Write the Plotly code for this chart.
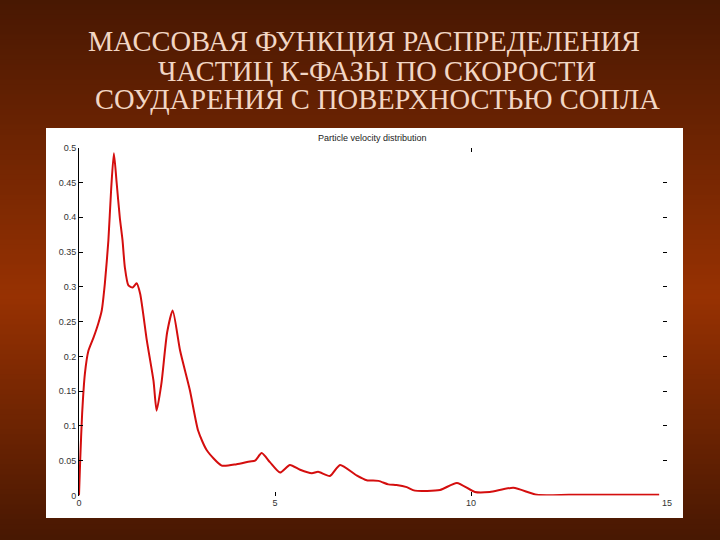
import plotly.graph_objects as go

# ---- data ----
velocity = [0.0, 0.03, 0.08, 0.15, 0.24, 0.37, 0.49, 0.58, 0.66, 0.75, 0.82, 0.89,
            0.96, 1.04, 1.11, 1.17, 1.26, 1.37, 1.47, 1.56, 1.73, 1.90, 1.98,
            2.10, 2.25, 2.39, 2.58, 2.83, 3.04, 3.26, 3.64, 4.02, 4.36, 4.49,
            4.66, 4.87, 5.13, 5.38, 5.64, 5.94, 6.10, 6.40, 6.66, 7.08, 7.34,
            7.64, 7.89, 8.10, 8.36, 8.57, 9.21, 9.64, 10.10, 10.48, 11.08,
            11.68, 12.5, 13.5, 14.8]
mass_fraction = [0.0, 0.05, 0.118, 0.175, 0.208, 0.227, 0.247, 0.266, 0.305, 0.367, 0.44, 0.492,
                 0.45, 0.40, 0.367, 0.328, 0.302, 0.299, 0.305, 0.290, 0.223, 0.165, 0.122,
                 0.16, 0.235, 0.266, 0.208, 0.151, 0.093, 0.065, 0.043, 0.045, 0.049, 0.050,
                 0.061, 0.048, 0.033, 0.044, 0.037, 0.032, 0.034, 0.028, 0.044, 0.029, 0.022,
                 0.021, 0.016, 0.015, 0.012, 0.007, 0.008, 0.018, 0.005, 0.005, 0.011,
                 0.001, 0.001, 0.001, 0.001]

x_ticks = [0, 5, 10, 15]
x_top_ticks = [10]
y_ticks = [0, 0.05, 0.1, 0.15, 0.2, 0.25, 0.3, 0.35, 0.4, 0.45, 0.5]
y_tick_text = ["0", "0.05", "0.1", "0.15", "0.2", "0.25", "0.3", "0.35", "0.4", "0.45", "0.5"]

title_lines = ["МАССОВАЯ ФУНКЦИЯ РАСПРЕДЕЛЕНИЯ",
               "ЧАСТИЦ К-ФАЗЫ ПО СКОРОСТИ",
               "СОУДАРЕНИЯ С ПОВЕРХНОСТЬЮ СОПЛА"]
plot_title = "Particle velocity distribution"

W, H = 720, 540

fig = go.Figure()
fig.add_trace(go.Scatter(x=velocity, y=mass_fraction, mode="lines",
                         line=dict(color="rgb(212,14,14)", width=2, shape="spline", smoothing=0.6),
                         showlegend=False, hoverinfo="skip"))

# background gradient (dark -> red-brown -> dark)
shapes = []
n = 108
top = (72, 24, 2)
mid = (152, 50, 2)
for i in range(n):
    t = (i + 0.5) / n
    c = 1 - abs(t - 0.55) / 0.55 if t < 0.55 else 1 - (t - 0.55) / 0.45
    c = max(0.0, min(1.0, c))
    col = tuple(int(top[k] + (mid[k] - top[k]) * c) for k in range(3))
    shapes.append(dict(type="rect", xref="paper", yref="paper",
                       x0=0, x1=1, y0=1 - (i + 1) / n, y1=1 - i / n + 0.001,
                       fillcolor="rgb(%d,%d,%d)" % col, line=dict(width=0), layer="below"))
# white figure panel
shapes.append(dict(type="rect", xref="paper", yref="paper",
                   x0=46 / W, x1=683 / W, y0=1 - 518 / H, y1=1 - 128 / H,
                   fillcolor="white", line=dict(width=0), layer="below"))

annotations = []
title_pos = [(364, 42), (377, 71), (377, 100)]
for txt, (cx, cy) in zip(title_lines, title_pos):
    annotations.append(dict(text=txt, x=cx / W, y=1 - cy / H, xref="paper", yref="paper",
                            showarrow=False, xanchor="center", yanchor="middle",
                            font=dict(family="Liberation Serif", size=28.5, color="#f2d6c4")))
annotations.append(dict(text=plot_title, x=372 / W, y=1 - 138 / H, xref="paper", yref="paper",
                        showarrow=False, xanchor="center", yanchor="middle",
                        font=dict(family="Liberation Sans", size=9, color="#222")))

x_dom = [79 / W, 667 / W]
y_dom = [1 - 495.5 / H, 1 - 147.7 / H]
tickfont = dict(family="Liberation Sans", size=9, color="#333")

fig.update_layout(
    template="none",
    width=W, height=H, margin=dict(l=0, r=0, t=0, b=0, pad=0), autosize=False,
    paper_bgcolor="rgb(72,24,2)", plot_bgcolor="rgba(0,0,0,0)",
    shapes=shapes, annotations=annotations,
    xaxis=dict(domain=x_dom, range=[0, 15], tickvals=x_ticks, ticks="inside", ticklen=4,
               tickcolor="#000", showline=False, showgrid=False, zeroline=False,
               tickfont=tickfont, anchor="y", automargin=False),
    yaxis=dict(domain=y_dom, range=[0, 0.5], tickvals=y_ticks, ticktext=y_tick_text,
               ticks="inside", ticklen=4, tickcolor="#000", showline=True, linecolor="#000",
               linewidth=1, showgrid=False, zeroline=False, tickfont=tickfont, anchor="x",
               automargin=False),
    xaxis2=dict(domain=x_dom, range=[0, 15], tickvals=x_top_ticks, ticks="inside", ticklen=4,
                tickcolor="#000", showticklabels=False, showgrid=False, zeroline=False,
                overlaying="x", side="top", anchor="y", automargin=False),
    yaxis2=dict(domain=y_dom, range=[0, 0.5], tickvals=y_ticks, ticks="inside", ticklen=4,
                tickcolor="#000", showticklabels=False, showgrid=False, zeroline=False,
                overlaying="y", side="right", anchor="x", automargin=False),
)
fig.add_trace(go.Scatter(x=[0], y=[0], xaxis="x2", yaxis="y2", mode="markers",
                         marker=dict(opacity=0), showlegend=False, hoverinfo="skip"))

fig.write_html("out.html", config={"displayModeBar": False},
               post_script="document.body.style.margin='0';document.body.style.overflow='hidden';")
